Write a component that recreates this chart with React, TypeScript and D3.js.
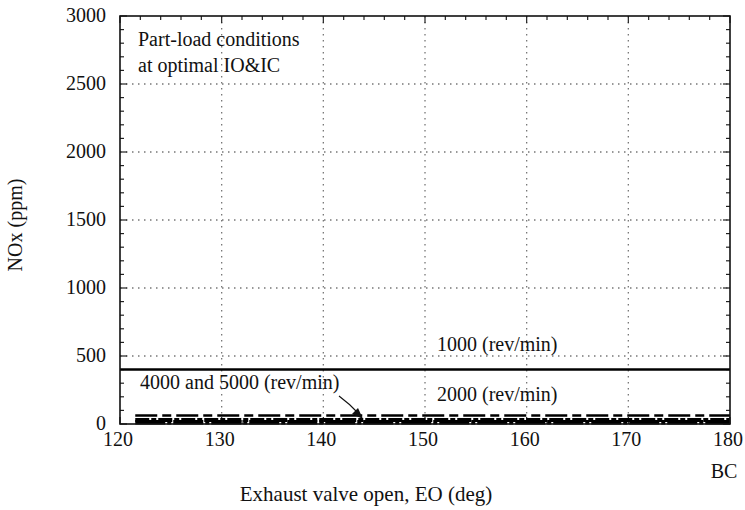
import React from "react";
import * as d3 from "d3";

const eoSolid = [120, 130, 140, 150, 160, 170, 180];
const eoDashed = [121.5, 130, 140, 150, 160, 170, 180];
const nox1000 = [400, 400, 400, 400, 400, 400, 400];
const nox2000 = [62, 62, 62, 62, 62, 62, 62];
const nox4000 = [30, 30, 30, 30, 30, 30, 30];
const nox5000 = [13, 13, 13, 13, 13, 13, 13];
const xTicks = [120, 130, 140, 150, 160, 170, 180];
const yTicks = [0, 500, 1000, 1500, 2000, 2500, 3000];

const W = 745;
const H = 510;
const L = 120, R = 730, T = 16, B = 424;
const FONT = "'Liberation Serif', 'Times New Roman', serif";
const FS = 20;

export default function App() {
  const x = d3.scaleLinear().domain([120, 180]).range([L, R]);
  const y = d3.scaleLinear().domain([0, 3000]).range([B, T]);
  const line = d3
    .line<[number, number]>()
    .x((d) => x(d[0]))
    .y((d) => y(d[1]));
  const zip = (a: number[], b: number[]) => a.map((v, i) => [v, b[i]] as [number, number]);

  const xMinor = d3.range(120, 180.01, 2).filter((v) => !xTicks.includes(v));
  const yMinor = d3.range(0, 3000.1, 100).filter((v) => !yTicks.includes(v));

  const series = [
    { d: zip(eoSolid, nox1000), w: 2.5, dash: "none" },
    { d: zip(eoDashed, nox2000), w: 2.6, dash: "22,5,9,5" },
    { d: zip(eoDashed, nox4000), w: 4, dash: "14,2,5,2" },
    { d: zip(eoDashed, nox5000), w: 4.5, dash: "30,2,4,2" },
  ];

  const ts: React.CSSProperties = { fontFamily: FONT, fontSize: FS };

  return (
    <svg
      width={W}
      height={H}
      style={{ position: "absolute", left: 0, top: 0, background: "#fff" }}
    >
      <rect x={0} y={0} width={W} height={H} fill="#fff" />
      {xTicks.slice(1, -1).map((v) => (
        <line key={"gx" + v} x1={x(v)} x2={x(v)} y1={T} y2={B} stroke="#777" strokeWidth={1.3} strokeDasharray="1.5,4.5" />
      ))}
      {yTicks.slice(1, -1).map((v) => (
        <line key={"gy" + v} x1={L} x2={R} y1={y(v)} y2={y(v)} stroke="#777" strokeWidth={1.3} strokeDasharray="1.5,4.5" />
      ))}
      {xMinor.map((v) => (
        <g key={"xm" + v} stroke="#222" strokeWidth={1.2}>
          <line x1={x(v)} x2={x(v)} y1={B} y2={B - 4} />
          <line x1={x(v)} x2={x(v)} y1={T} y2={T + 4} />
        </g>
      ))}
      {yMinor.map((v) => (
        <g key={"ym" + v} stroke="#222" strokeWidth={1.2}>
          <line x1={L} x2={L + 4} y1={y(v)} y2={y(v)} />
          <line x1={R} x2={R - 4} y1={y(v)} y2={y(v)} />
        </g>
      ))}
      {xTicks.map((v) => (
        <g key={"xM" + v} stroke="#222" strokeWidth={1.2}>
          <line x1={x(v)} x2={x(v)} y1={B} y2={B - 7} />
          <line x1={x(v)} x2={x(v)} y1={T} y2={T + 7} />
        </g>
      ))}
      {yTicks.map((v) => (
        <g key={"yM" + v} stroke="#222" strokeWidth={1.2}>
          <line x1={L} x2={L + 7} y1={y(v)} y2={y(v)} />
          <line x1={R} x2={R - 7} y1={y(v)} y2={y(v)} />
        </g>
      ))}
      {series.map((s, i) => (
        <path key={i} d={line(s.d) || ""} fill="none" stroke="#000" strokeWidth={s.w} strokeDasharray={s.dash} />
      ))}
      <rect x={L} y={T} width={R - L} height={B - T} fill="none" stroke="#111" strokeWidth={1.6} />
      {xTicks.map((v) => (
        <text key={"xl" + v} x={x(v) - 2} y={B + 22} style={ts} textAnchor="middle" fill="#111">
          {v}
        </text>
      ))}
      {yTicks.map((v) => (
        <text key={"yl" + v} x={L - 14} y={y(v) + 6} style={ts} textAnchor="end" fill="#111">
          {v}
        </text>
      ))}
      <text x={R - 6} y={478} style={ts} textAnchor="middle" fill="#111">BC</text>
      <text x={366} y={501} style={{ ...ts, fontSize: 21 }} textAnchor="middle" fill="#111">Exhaust valve open, EO (deg)</text>
      <text transform={`translate(22,225) rotate(-90)`} style={ts} textAnchor="middle" fill="#111">
        NOx (ppm)
      </text>
      <text x={138} y={46} style={ts} fill="#111">Part-load conditions</text>
      <text x={138} y={72} style={ts} fill="#111">at optimal IO&amp;IC</text>
      <text x={437} y={351} style={ts} fill="#111">1000 (rev/min)</text>
      <text x={437} y={401} style={ts} fill="#111">2000 (rev/min)</text>
      <text x={140} y={389} style={ts} fill="#111">4000 and 5000 (rev/min)</text>
      <path d="M339,396 Q350,404 360,415" fill="none" stroke="#111" strokeWidth={1.2} />
      <path d="M363,419 L352,414 L358,408 Z" fill="#111" />
    </svg>
  );
}
